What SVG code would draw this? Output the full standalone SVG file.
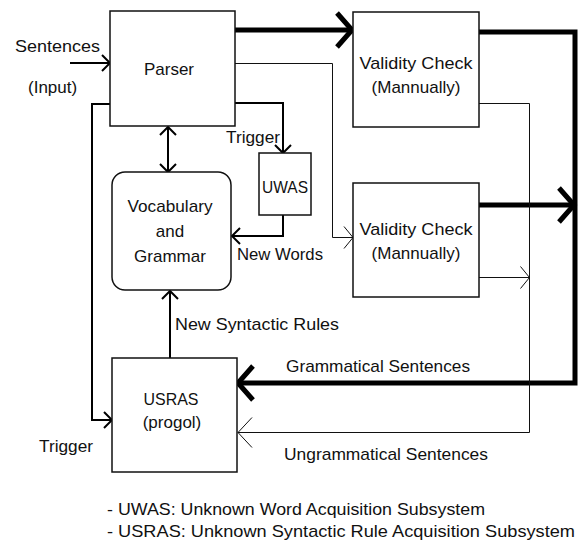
<svg xmlns="http://www.w3.org/2000/svg" width="581" height="542" viewBox="0 0 581 542">
<style>
  text { font-family: "Liberation Sans", Arial, sans-serif; font-size: 17px; fill: #111; }
  .box { fill: #fff; stroke: #111; stroke-width: 1.5; }
  .thick { fill: none; stroke: #000; stroke-width: 5; }
  .med { fill: none; stroke: #000; stroke-width: 2; }
  .thin { fill: none; stroke: #111; stroke-width: 1; }
  .mid { text-anchor: middle; }
</style>
<defs>
  <marker id="ahThick" markerUnits="userSpaceOnUse" viewBox="-20 -20 24 40" markerWidth="24" markerHeight="40" refX="0" refY="0" orient="auto">
    <path d="M-15,-17 L0,0 L-15,17" fill="none" stroke="#000" stroke-width="5"/>
  </marker>
  <marker id="ahMed" markerUnits="userSpaceOnUse" viewBox="-12 -12 16 24" markerWidth="16" markerHeight="24" refX="0" refY="0" orient="auto">
    <path d="M-8,-8 L0,0 L-8,8" fill="none" stroke="#000" stroke-width="2"/>
  </marker>
  <marker id="ahMedS" markerUnits="userSpaceOnUse" viewBox="-12 -12 16 24" markerWidth="16" markerHeight="24" refX="0" refY="0" orient="auto-start-reverse">
    <path d="M-8,-8 L0,0 L-8,8" fill="none" stroke="#000" stroke-width="2"/>
  </marker>
  <marker id="ahThin" markerUnits="userSpaceOnUse" viewBox="-12 -14 16 28" markerWidth="16" markerHeight="28" refX="0" refY="0" orient="auto">
    <path d="M-9,-11 L0,0 L-9,11" fill="none" stroke="#111" stroke-width="1"/>
  </marker>
  <marker id="ahThinL" markerUnits="userSpaceOnUse" viewBox="-18 -18 22 36" markerWidth="22" markerHeight="36" refX="0" refY="0" orient="auto">
    <path d="M-14,-15 L0,0 L-14,15" fill="none" stroke="#111" stroke-width="1"/>
  </marker>
</defs>
<rect width="581" height="542" fill="#fff"/>

<g id="connectors">
  <!-- input -->
  <line class="med" x1="70" y1="63" x2="110" y2="63" marker-end="url(#ahMed)"/>
  <!-- parser -> VC1 thick -->
  <line class="thick" x1="235" y1="30" x2="352" y2="30" marker-end="url(#ahThick)"/>
  <!-- VC1 -> right -> down -> USRAS (grammatical) -->
  <path class="thick" d="M479,32 H575 V383 H238" marker-end="url(#ahThick)"/>
  <!-- VC2 -> right thick -->
  <line class="thick" x1="479" y1="205" x2="574" y2="205" marker-end="url(#ahThick)"/>
  <!-- parser -> VC2 thin -->
  <path class="thin" d="M235,63.5 H332.5 V237.5 H353" marker-end="url(#ahThin)"/>
  <!-- parser -> UWAS trigger -->
  <path class="med" d="M235,103 H283 V153" marker-end="url(#ahMed)"/>
  <!-- UWAS -> vocab new words -->
  <path class="med" d="M283,215 V236 H232" marker-end="url(#ahMed)"/>
  <!-- parser <-> vocab -->
  <line class="med" x1="168" y1="127" x2="168" y2="172" marker-start="url(#ahMedS)" marker-end="url(#ahMed)"/>
  <!-- USRAS -> vocab new syntactic rules -->
  <line class="med" x1="170" y1="358" x2="170" y2="291" marker-end="url(#ahMed)"/>
  <!-- parser left loop -> USRAS trigger -->
  <path class="med" d="M110,104 H92 V420 H112" marker-end="url(#ahMed)"/>
  <!-- VC1 -> ungrammatical -> USRAS -->
  <path class="thin" d="M479,103.5 H529.5 V432.5 H238" marker-end="url(#ahThinL)"/>
  <!-- VC2 -> ungrammatical line -->
  <line class="thin" x1="479" y1="277.5" x2="529.5" y2="277.5" marker-end="url(#ahThin)"/>
</g>

<g id="parser">
  <rect class="box" x="110" y="11" width="125" height="115"/>
  <text class="mid" x="169" y="75">Parser</text>
</g>
<g id="vc1">
  <rect class="box" x="353" y="12" width="126" height="115"/>
  <text class="mid" x="416" y="69" textLength="113" lengthAdjust="spacingAndGlyphs">Validity Check</text>
  <text class="mid" x="416" y="93">(Mannually)</text>
</g>
<g id="vc2">
  <rect class="box" x="353" y="183" width="126" height="114"/>
  <text class="mid" x="416" y="235" textLength="113" lengthAdjust="spacingAndGlyphs">Validity Check</text>
  <text class="mid" x="416" y="259">(Mannually)</text>
</g>
<g id="uwas">
  <rect class="box" x="259" y="153" width="52" height="62"/>
  <text class="mid" x="285" y="193" textLength="46" lengthAdjust="spacingAndGlyphs">UWAS</text>
</g>
<g id="vocab">
  <rect class="box" x="112" y="172" width="119" height="118" rx="13" ry="13"/>
  <text class="mid" x="170" y="212" textLength="85" lengthAdjust="spacingAndGlyphs">Vocabulary</text>
  <text class="mid" x="170" y="237">and</text>
  <text class="mid" x="170" y="262">Grammar</text>
</g>
<g id="usras">
  <rect class="box" x="112" y="358" width="125" height="114"/>
  <text class="mid" x="171" y="405" textLength="55" lengthAdjust="spacingAndGlyphs">USRAS</text>
  <text class="mid" x="172" y="428">(progol)</text>
</g>

<g id="labels">
  <text x="15" y="52" textLength="85" lengthAdjust="spacingAndGlyphs">Sentences</text>
  <text x="28" y="93">(Input)</text>
  <text x="226" y="143" textLength="54" lengthAdjust="spacingAndGlyphs">Trigger</text>
  <text x="237" y="260" textLength="86" lengthAdjust="spacingAndGlyphs">New Words</text>
  <text x="175" y="330" textLength="164" lengthAdjust="spacingAndGlyphs">New Syntactic Rules</text>
  <text x="286" y="372" textLength="184" lengthAdjust="spacingAndGlyphs">Grammatical Sentences</text>
  <text x="39" y="452" textLength="54" lengthAdjust="spacingAndGlyphs">Trigger</text>
  <text x="284" y="460" textLength="204" lengthAdjust="spacingAndGlyphs">Ungrammatical Sentences</text>
  <text x="107" y="515" textLength="378" lengthAdjust="spacingAndGlyphs">- UWAS: Unknown Word Acquisition Subsystem</text>
  <text x="107" y="537" font-size="16" textLength="468" lengthAdjust="spacingAndGlyphs">- USRAS: Unknown Syntactic Rule  Acquisition Subsystem</text>
</g>
</svg>
